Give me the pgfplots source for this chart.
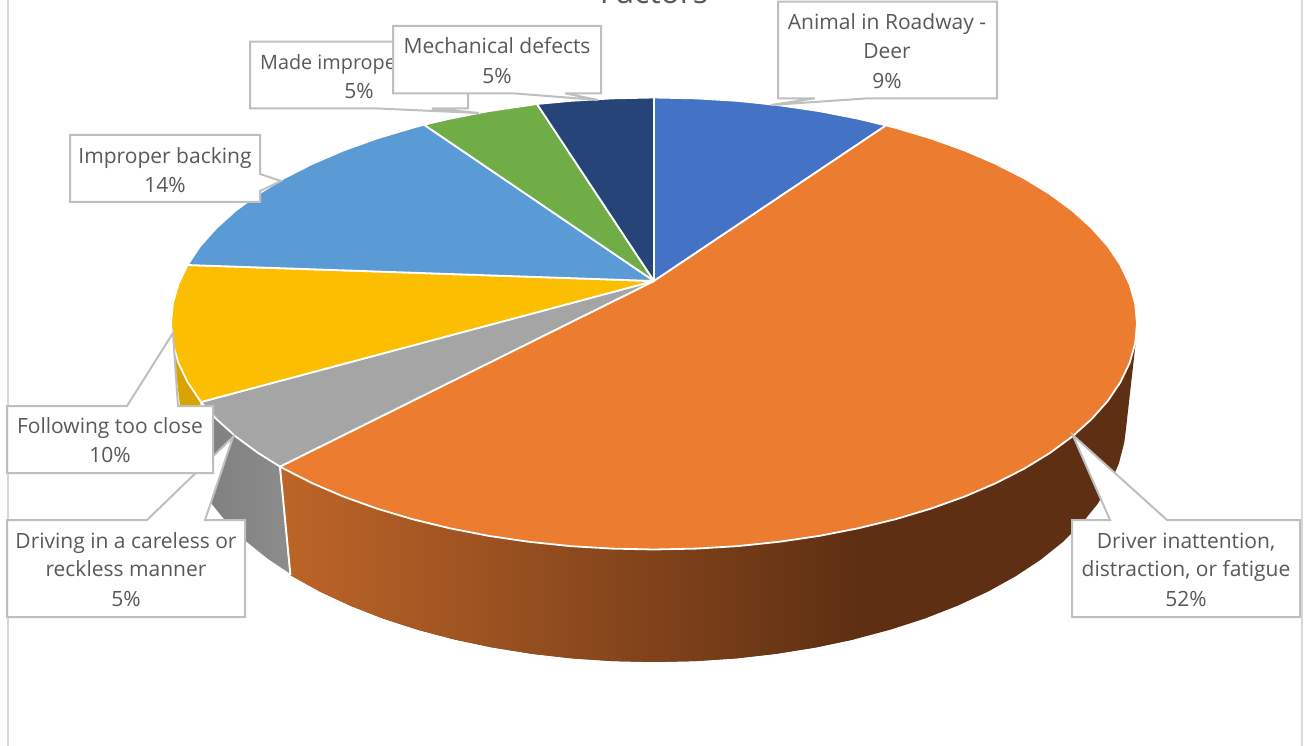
\documentclass[border=0pt]{standalone}
\usepackage{fontspec}
\setmainfont{Open Sans}
\usepackage{pgfplots}
\pgfplotsset{compat=1.18}
\definecolor{cblue}{HTML}{4472C4}
\definecolor{corange}{HTML}{EB7C30}
\definecolor{cgray}{HTML}{A5A5A5}
\definecolor{cyellow}{HTML}{FBBE00}
\definecolor{clblue}{HTML}{5B9BD5}
\definecolor{cgreen}{HTML}{70AD47}
\definecolor{cnavy}{HTML}{264478}
\definecolor{wallbrown}{HTML}{5E2F13}
\definecolor{wallorange}{HTML}{BE6528}
\definecolor{wallyellow}{HTML}{D9A300}
\definecolor{callout}{HTML}{BFBFBF}
\definecolor{lbl}{HTML}{595959}
\tikzset{
  slice/.style={draw=white,line width=1.8pt,line join=round},
  box/.style={draw=callout,fill=white,line width=2pt,line join=miter},
  t/.style={text=lbl,font=\fontsize{21}{24}\selectfont,inner sep=0pt,anchor=base},
}
\begin{document}
\begin{tikzpicture}
\useasboundingbox (0,0) rectangle (1307pt,746pt);
\clip (0,0) rectangle (1307pt,746pt);
\begin{axis}[at={(0,0)},anchor=south west,scale only axis,width=1307pt,height=746pt,
  xmin=0,xmax=1307,ymin=0,ymax=746,y dir=reverse,hide axis,clip=true]
% chart frame
\addplot[color=black!15,line width=2pt] coordinates {(7.5,-5) (7.5,751)};
\addplot[color=black!15,line width=2pt] coordinates {(1301.5,-5) (1301.5,751)};
% walls
\addplot[fill=wallyellow,draw=none] coordinates {(172.5,343) (182,422) (183.8,442.9) (189.2,463.7) (198.1,484.1) (210.5,504.1) (201,402)} --cycle;
\addplot[draw=white,line width=1.8pt,left color=black!50,right color=black!45] coordinates {(201,402) (210.5,504.1) (226.2,523.4) (245.2,542) (267.3,559.7) (290.5,575.2) (280,466.6)} --cycle;
\addplot[fill=wallbrown,draw=none] coordinates {(1136,340) (1125.5,433) (1124.2,442.9) (1118.8,463.7) (1109.9,484.1) (1097.5,504.1) (1081.8,523.4) (1062.8,542) (1040.7,559.7) (1015.6,576.3) (987.8,591.7) (957.4,605.8) (924.7,618.6) (890,629.8) (853.5,639.5) (815.4,647.5) (776.2,653.8) (735.9,658.4) (695.2,661.1) (654,662) (612.8,661.1) (572.1,658.4) (531.8,653.8) (492.6,647.5) (454.5,639.5) (418,629.8) (383.3,618.6) (350.6,605.8) (320.2,591.7) (290.5,575.2) (280,466.6)} --cycle;
\addplot[draw=none,left color=wallorange,right color=wallbrown] coordinates {(858,528) (853.5,639.5) (815.4,647.5) (776.2,653.8) (735.9,658.4) (695.2,661.1) (654,662) (612.8,661.1) (572.1,658.4) (531.8,653.8) (492.6,647.5) (454.5,639.5) (418,629.8) (383.3,618.6) (350.6,605.8) (320.2,591.7) (290.5,575.2) (280,466.6)} --cycle;
\addplot[color=white,line width=1.8pt] coordinates {(280,466.6) (290.5,575.2)};
% top face
\addplot[slice,fill=cblue] coordinates {(654,281) (654,97.5) (696.1,98.4) (737.8,100.9) (779,105.2) (819.2,111.1) (858.1,118.7) (886,125.4)} --cycle;
\addplot[slice,fill=corange] coordinates {(654,281) (886,125.4) (895.5,127.8) (931,138.4) (964.5,150.4) (995.5,163.7) (1024,178.2) (1049.7,193.9) (1072.3,210.5) (1091.7,228) (1107.9,246.2) (1120.5,265) (1129.7,284.3) (1135.2,303.8) (1137,323.5) (1135.2,343.2) (1129.7,362.7) (1120.5,382) (1107.9,400.8) (1091.7,419) (1072.3,436.5) (1049.7,453.1) (1024,468.8) (995.5,483.3) (964.5,496.6) (931,508.6) (895.5,519.2) (858.1,528.3) (819.2,535.9) (779,541.8) (737.8,546.1) (696.1,548.6) (654,549.5) (611.9,548.6) (570.2,546.1) (529,541.8) (488.8,535.9) (449.9,528.3) (412.5,519.2) (377,508.6) (343.5,496.6) (312.5,483.3) (284,468.8) (280,466.6)} --cycle;
\addplot[slice,fill=cgray] coordinates {(654,281) (280,466.6) (258.3,453.1) (235.7,436.5) (216.3,419) (201,402)} --cycle;
\addplot[slice,fill=cyellow] coordinates {(654,281) (201,402) (187.5,382) (178.3,362.7) (172.8,343.2) (171,323.5) (172.8,303.8) (178.3,284.3) (187.5,265)} --cycle;
\addplot[slice,fill=clblue] coordinates {(654,281) (187.5,265) (200.1,246.2) (216.3,228) (235.7,210.5) (258.3,193.9) (284,178.2) (312.5,163.7) (343.5,150.4) (377,138.4) (412.5,127.8) (424,124.7)} --cycle;
\addplot[slice,fill=cgreen] coordinates {(654,281) (424,124.7) (449.9,118.7) (488.8,111.1) (529,105.2) (537,104)} --cycle;
\addplot[slice,fill=cnavy] coordinates {(654,281) (537,104) (570.2,100.9) (611.9,98.4) (654,97.5)} --cycle;
% title
\node[text=lbl,font=\fontsize{32}{36}\selectfont,anchor=base,inner sep=0pt] at (axis cs:654,4) {Factors};
% callouts, in series order
\addplot[box] coordinates {(778,1.7) (997,1.7) (997,98.3) (868,98.3) (771,105) (815,98.3) (778,98.3)} --cycle;
\node[t] at (axis cs:887,29.3) {Animal in Roadway -};
\node[t] at (axis cs:887,59) {Deer};
\node[t] at (axis cs:887,88.3) {9\%};
\addplot[box] coordinates {(1072,520) (1110,520) (1072.7,435) (1167,520) (1300,520) (1300,617) (1072,617)} --cycle;
\node[t] at (axis cs:1186,548.3) {Driver inattention,};
\node[t] at (axis cs:1186,576.7) {distraction, or fatigue};
\node[t] at (axis cs:1186,606) {52\%};
\addplot[box] coordinates {(7,520) (147,520) (233,437) (205,520) (245,520) (245,617) (7,617)} --cycle;
\node[t] at (axis cs:126,548) {Driving in a careless or};
\node[t] at (axis cs:126,576.7) {reckless manner};
\node[t] at (axis cs:126,606) {5\%};
\addplot[box] coordinates {(7,406) (127,406) (173,333) (178,406) (213,406) (213,473) (7,473)} --cycle;
\node[t] at (axis cs:110,433.3) {Following too close};
\node[t] at (axis cs:110,462.7) {10\%};
\addplot[box] coordinates {(70,135) (260,135) (260,174) (281,181) (260,191) (260,202) (70,202)} --cycle;
\node[t] at (axis cs:165,163.3) {Improper backing};
\node[t] at (axis cs:165,192.3) {14\%};
\addplot[box] coordinates {(250,41.7) (468,41.7) (468,108.5) (432,108.5) (479,113) (378,108.5) (250,108.5)} --cycle;
\node[t,anchor=base west,font=\fontsize{19.8}{24}\selectfont] at (axis cs:260,69.3) {Made improper turn};
\node[t] at (axis cs:359,98.3) {5\%};
\addplot[box] coordinates {(393,26) (601,26) (601,93.3) (565,93.3) (598,100) (513,93.3) (393,93.3)} --cycle;
\node[t] at (axis cs:497,54) {Mechanical defects};
\node[t] at (axis cs:497,83.3) {5\%};
\end{axis}
\end{tikzpicture}
\end{document}
